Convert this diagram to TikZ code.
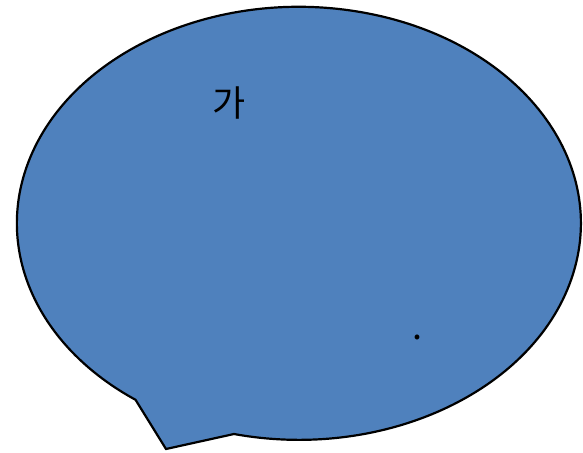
\documentclass[tikz,border=0pt]{standalone}
\usepackage{fontspec}
\newfontfamily\kofont{Noto Sans CJK KR}
\usetikzlibrary{positioning}
\definecolor{bubbleblue}{RGB}{79,129,189}

\begin{document}
\begin{tikzpicture}[x=1pt,y=-1pt,
  bubble/.style={fill=bubbleblue,draw=black,line width=2.2pt,line join=miter},
  txt/.style={font=\kofont\fontsize{36}{40}\selectfont,inner sep=0pt}]
\useasboundingbox (0,0) rectangle (583,452);
\coordinate (tailL) at (137,400);
\coordinate (tip) at (166,449);
\coordinate (tailR) at (234,434);
\draw[bubble] (tailR) arc[start angle=103.3,end angle=-234.6,x radius=282,y radius=216.5] -- (tip) -- cycle;
\node[txt] (ga) at (229,103) {가};
\node[txt] (dot) at (417,337) {.};
\end{tikzpicture}
\end{document}
